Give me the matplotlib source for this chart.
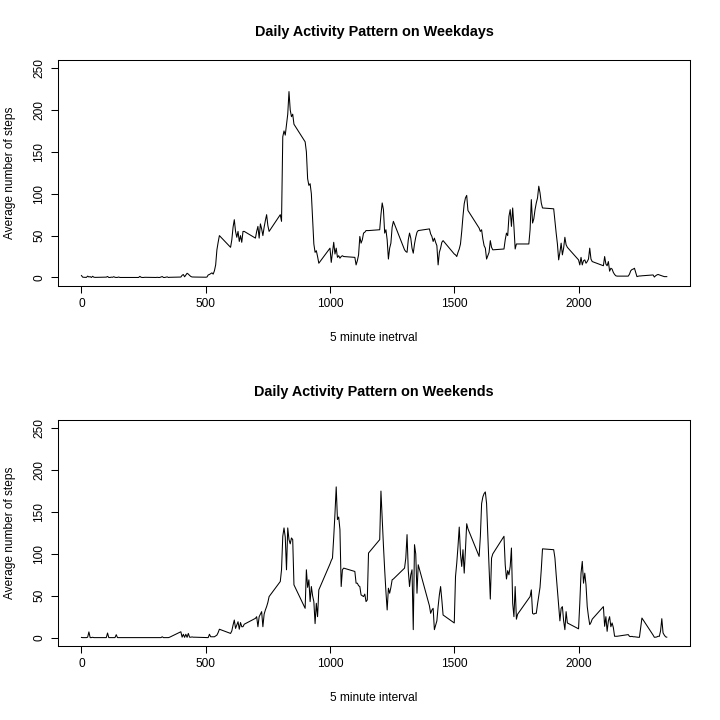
import matplotlib
matplotlib.use('Agg')
import matplotlib.pyplot as plt

# 5 minute interval identifiers (hhmm), 288 per day
hours = list(range(24))
minutes = list(range(0, 60, 5))
intervals = [h * 100 + m for h in hours for m in minutes]

# average steps per interval, one row per hour
weekday_steps = [
    2.3, 0.4, 0.2, 0.2, 0.1, 1.6, 0.6, 1.0, 0.0, 1.4, 0.3, 0.1,
    0.4, 1.2, 0.0, 0.0, 0.4, 0.2, 0.9, 0.2, 0.0, 0.1, 0.5, 0.0,
    0.0, 0.0, 0.0, 0.1, 0.0, 0.0, 0.0, 1.3, 0.2, 0.0, 0.0, 0.2,
    0.0, 0.2, 0.0, 0.0, 0.6, 1.1, 0.0, 0.0, 0.3, 0.7, 0.0, 0.2,
    0.5, 2.6, 3.5, 0.8, 3.0, 5.0, 4.0, 2.5, 1.2, 0.6, 0.5, 0.5,
    0.3, 0.5, 3.0, 3.6, 4.5, 5.5, 4.0, 8.0, 15.0, 33.0, 42.0, 50.0,
    36.0, 45.0, 60.0, 69.0, 55.0, 48.0, 55.0, 43.0, 50.0, 42.0, 55.0, 55.0,
    47.0, 55.0, 61.0, 47.0, 64.0, 58.0, 50.0, 60.0, 68.0, 75.0, 62.0, 55.0,
    75.0, 67.0, 168.0, 175.0, 170.0, 182.0, 195.0, 222.0, 200.0, 192.0, 195.0, 183.0,
    162.0, 150.0, 118.0, 110.0, 112.0, 100.0, 70.0, 40.0, 30.0, 32.0, 25.0, 17.0,
    35.0, 18.0, 30.0, 42.0, 28.0, 35.0, 24.0, 26.0, 23.0, 25.0, 26.0, 25.0,
    24.0, 15.0, 20.0, 27.0, 49.0, 41.0, 45.0, 53.0, 54.0, 56.0, 56.0, 56.0,
    57.0, 75.0, 89.0, 81.0, 53.0, 57.0, 45.0, 22.0, 35.0, 41.0, 60.0, 67.0,
    33.0, 31.0, 30.0, 45.0, 53.0, 47.0, 35.0, 29.0, 40.0, 48.0, 54.0, 56.0,
    58.0, 52.0, 49.0, 43.0, 47.0, 42.0, 38.0, 15.0, 30.0, 35.0, 42.0, 44.0,
    28.0, 27.0, 25.0, 30.0, 34.0, 40.0, 55.0, 73.0, 88.0, 95.0, 98.0, 80.0,
    59.0, 55.0, 57.0, 46.0, 38.0, 35.0, 22.0, 26.0, 30.0, 44.0, 36.0, 33.0,
    34.0, 45.0, 53.0, 50.0, 73.0, 81.0, 61.0, 83.0, 61.0, 34.0, 40.0, 40.0,
    40.0, 57.0, 93.0, 65.0, 70.0, 81.0, 89.0, 95.0, 109.0, 101.0, 89.0, 83.0,
    82.0, 67.0, 53.0, 40.0, 21.0, 30.0, 41.0, 27.0, 35.0, 48.0, 39.0, 36.0,
    21.0, 15.0, 24.0, 15.0, 20.0, 21.0, 17.0, 19.0, 22.0, 35.0, 22.0, 19.0,
    14.0, 25.0, 16.0, 14.0, 19.0, 7.5, 11.0, 10.0, 6.0, 3.6, 2.0, 1.6,
    1.6, 4.0, 8.0, 9.5, 10.0, 11.0, 6.0, 1.0, 1.5, 1.8, 1.8, 2.0,
    3.0, 0.5, 2.0, 3.0, 3.6, 3.0, 2.5, 2.0, 1.5, 1.0, 1.0, 1.0,
]

weekend_steps = [
    0.2, 0.0, 0.0, 0.0, 0.0, 0.5, 6.8, 0.0, 0.0, 0.4, 0.0, 0.0,
    0.0, 5.5, 0.0, 0.0, 0.0, 0.0, 0.0, 0.0, 3.5, 0.0, 0.0, 0.0,
    0.0, 0.0, 0.0, 0.0, 0.0, 0.0, 0.0, 0.0, 0.0, 0.0, 0.0, 0.0,
    0.0, 0.0, 0.0, 0.0, 0.0, 1.0, 0.0, 0.0, 0.0, 0.0, 0.0, 0.5,
    7.0, 0.5, 4.0, 0.3, 4.0, 0.3, 5.0, 0.5, 0.5, 0.8, 0.5, 0.5,
    0.0, 0.0, 0.0, 4.0, 1.0, 1.0, 1.0, 1.0, 2.0, 3.0, 6.0, 10.0,
    5.0, 8.0, 15.0, 21.0, 11.0, 15.0, 19.0, 10.0, 18.0, 13.0, 13.0, 16.0,
    23.0, 25.0, 13.0, 25.0, 28.0, 31.0, 13.0, 28.0, 33.0, 37.0, 42.0, 49.0,
    67.0, 81.0, 121.0, 131.0, 120.0, 81.0, 131.0, 117.0, 112.0, 119.0, 117.0, 63.0,
    35.0, 81.0, 60.0, 69.0, 43.0, 61.0, 50.0, 43.0, 16.7, 41.0, 25.0, 57.0,
    88.0, 92.0, 95.0, 120.0, 148.0, 180.0, 141.0, 144.0, 129.0, 61.0, 81.0, 83.0,
    79.0, 65.0, 65.0, 62.0, 61.0, 51.0, 50.0, 49.0, 52.0, 43.0, 45.0, 101.0,
    117.0, 175.0, 141.0, 110.0, 81.0, 55.0, 33.0, 59.0, 53.0, 60.0, 69.0, 70.0,
    83.0, 95.0, 123.0, 80.0, 61.0, 75.0, 81.0, 9.5, 111.0, 100.0, 53.0, 87.0,
    38.0, 29.0, 33.0, 35.0, 9.5, 15.0, 20.0, 37.0, 51.0, 61.0, 45.0, 27.0,
    17.5, 73.0, 89.0, 109.0, 132.0, 100.0, 85.0, 105.0, 77.0, 105.0, 136.0, 130.0,
    97.0, 121.0, 160.0, 168.0, 172.0, 174.0, 160.0, 121.0, 80.0, 46.0, 95.0, 100.0,
    121.0, 87.0, 70.0, 80.0, 75.0, 85.0, 107.0, 41.0, 25.0, 61.0, 22.0, 28.0,
    47.0, 49.0, 57.0, 29.0, 28.0, 29.0, 29.0, 40.0, 50.0, 60.0, 81.0, 106.0,
    105.0, 95.0, 75.0, 57.0, 40.0, 20.0, 35.0, 37.0, 20.0, 9.5, 31.0, 17.5,
    10.5, 41.0, 77.0, 91.0, 65.0, 77.0, 63.0, 37.0, 25.0, 15.5, 18.0, 22.0,
    37.0, 13.5, 25.0, 7.5, 20.0, 25.0, 13.0, 17.5, 12.0, 1.6, 1.6, 1.6,
    3.6, 1.5, 1.2, 1.5, 1.0, 1.0, 0.8, 0.5, 0.4, 0.4, 12.0, 23.4,
    3.0, 0.4, 0.5, 0.8, 1.6, 1.5, 8.0, 22.6, 5.6, 3.0, 1.0, 0.5,
]

x_ticks = [0, 500, 1000, 1500, 2000]
y_ticks = [0, 50, 100, 150, 200, 250]

plt.rcParams['font.family'] = ['Liberation Sans', 'DejaVu Sans']
plt.rcParams['font.size'] = 8.6


def draw_panel(ax, steps, title, xlabel):
    ax.plot(intervals, steps, color='black', lw=0.75)
    ax.set_xlim(-94.2, 2449.2)
    ax.set_ylim(-10, 260)
    ax.set_xticks(x_ticks)
    ax.set_yticks(y_ticks)
    ax.tick_params(direction='out', length=5, width=0.75, pad=4, colors='black')
    ax.tick_params(axis='y', labelrotation=90)
    for lab in ax.get_yticklabels():
        lab.set_va('center')
    for sp in ax.spines.values():
        sp.set_linewidth(0.75)
    ax.set_title(title, fontweight='bold', fontsize=10.4, pad=17)
    ax.set_xlabel(xlabel)
    ax.xaxis.set_label_coords(0.5, -0.23)
    ax.xaxis.label.set_va('center')
    ax.set_ylabel('Average number of steps')
    ax.yaxis.set_label_coords(-0.076, 0.5)
    ax.yaxis.label.set_va('center')


fig = plt.figure(figsize=(7.2, 7.2), dpi=100)
ax_top = fig.add_axes([0.0806, 0.603, 0.878, 0.314])
ax_bot = fig.add_axes([0.0806, 0.1028, 0.878, 0.314])

draw_panel(ax_top, weekday_steps, 'Daily Activity Pattern on Weekdays', '5 minute inetrval')
draw_panel(ax_bot, weekend_steps, 'Daily Activity Pattern on Weekends', '5 minute interval')

fig.savefig('out.png', dpi=100)
